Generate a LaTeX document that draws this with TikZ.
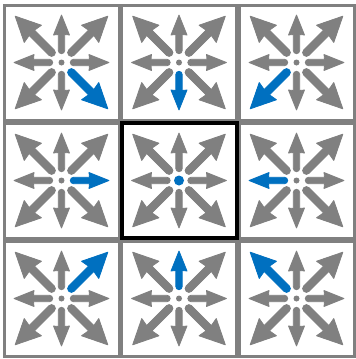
\documentclass[tikz,border=0pt]{standalone}
\usetikzlibrary{calc}
\definecolor{ag}{HTML}{808080}
\definecolor{ab}{HTML}{0070C0}
\tikzset{
  arrowshape/.style={line width=0.8pt, line join=round},
  cellbox/.style={draw=ag, line width=3pt},
  midbox/.style={draw=black, line width=4pt},
}
\begin{document}
\begin{tikzpicture}[x=1pt,y=-1pt]
\useasboundingbox[fill=white] (0,0) rectangle (356,359);
\foreach \i in {0,1,2} {
  \foreach \j in {0,1,2} {
    \pgfmathsetmacro\cx{61.5+117.5*\i}
    \pgfmathsetmacro\cy{62.5+118*\j}
    \coordinate (c\i\j) at (\cx,\cy);
    \draw[cellbox] (4+117.5*\i,5+118*\j) rectangle ++(115,115);
    \foreach \dx/\dy in {1/0,-1/0,0/1,0/-1,1/1,1/-1,-1/1,-1/-1} {
      \pgfmathtruncatemacro\isblue{and(\dx==1-\i,\dy==1-\j)}
      \pgfmathtruncatemacro\isdiag{abs(\dx)*abs(\dy)}
      \pgfmathsetmacro\ang{atan2(-\dy,\dx)}
      \ifnum\isblue=1 \def\acol{ab}\else\def\acol{ag}\fi
      \begin{scope}[shift={(c\i\j)}, rotate=\ang]
      \ifnum\isdiag=1
        \filldraw[arrowshape, draw=\acol, fill=\acol] (14,3.8) -- (42,3.8) -- (40.5,12.2) -- (65.5,0) -- (40.5,-12.2) -- (42,-3.8) -- (14,-3.8) arc (270:90:3.8) -- cycle;
      \else
        \filldraw[arrowshape, draw=\acol, fill=\acol] (12,3.2) -- (28,3.2) -- (27.5,8) -- (47.5,0) -- (27.5,-8) -- (28,-3.2) -- (12,-3.2) arc (270:90:3.2) -- cycle;
      \fi
      \end{scope}
    }
    \ifnum\i=1 \ifnum\j=1
      \fill[ab] (c\i\j) circle (5);
    \else
      \fill[ag] (c\i\j) circle (3);
    \fi \else
      \fill[ag] (c\i\j) circle (3);
    \fi
  }
}
\draw[midbox] (121.5,123) rectangle ++(115,115);
\end{tikzpicture}
\end{document}
